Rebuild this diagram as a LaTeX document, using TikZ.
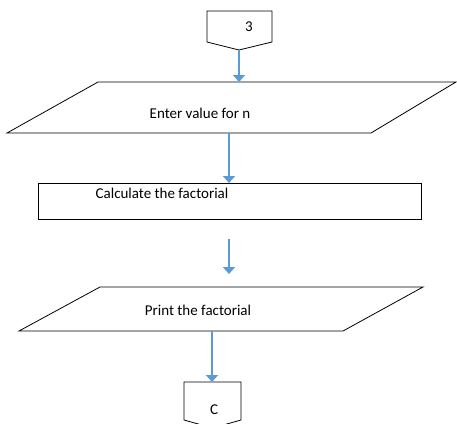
\documentclass[tikz,border=0pt]{standalone}
\usepackage{fontspec}
\setmainfont{Carlito}
\usetikzlibrary{arrows.meta}
\definecolor{flowblue}{HTML}{5B9BD5}
\tikzset{
  outline/.style={draw=black, line width=0.8pt, line join=miter},
  label/.style={inner sep=0pt, font=\fontsize{15}{17}\selectfont},
  flow/.style={draw=flowblue, line width=1.8pt,
    -{Triangle[width=12pt,length=7pt]}, shorten >=0pt},
}
\begin{document}
\begin{tikzpicture}[x=1pt, y=-1pt]
\useasboundingbox (0,0) rectangle (457,423);
\clip (0,0) rectangle (457,423);

% off-page connector at the top
\draw[outline] (207,11) -- (272,11) -- (272,42) -- (239,50) -- (207,42) -- cycle;
\coordinate (c3out) at (239,50);
\node[label] (c3) at (249,27) {3};

% input: value of n
\draw[outline] (98,82) -- (456,82) -- (371,133) -- (7,133) -- cycle;
\node[label] (enter) at (200,113) {Enter value for n};
\coordinate (enterin) at (239,82);
\coordinate (enterout) at (229,133);

% process box
\draw[outline] (38,183) rectangle (421,219);
\node[label] (calc) at (162,193) {Calculate the factorial};
\coordinate (calcin) at (229,183);

% free arrow between the process box and the output
\coordinate (gapstart) at (229,239);
\coordinate (gapend) at (229,274);

% output: print result
\draw[outline] (100,287) -- (423,287) -- (343,331) -- (19,331) -- cycle;
\node[label] (print) at (198,310) {Print the factorial};
\coordinate (printout) at (212,331);

% off-page connector at the bottom
\draw[outline] (184,382) -- (241,382) -- (241,420) -- (212.5,428) -- (184,420) -- cycle;
\coordinate (ccin) at (212,382);
\node[label] (cc) at (214,410) {C};

% connectors
\draw[flow] (c3out) -- (enterin);
\draw[flow] (enterout) -- (calcin);
\draw[flow] (gapstart) -- (gapend);
\draw[flow] (printout) -- (ccin);
\end{tikzpicture}
\end{document}
